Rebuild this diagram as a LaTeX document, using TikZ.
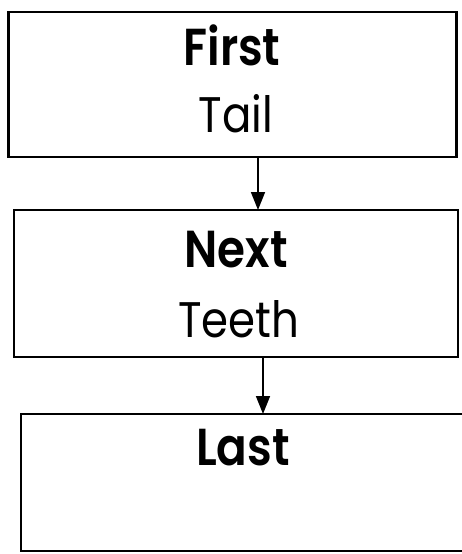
\documentclass[tikz,border=0pt]{standalone}
\usepackage{fontspec}
\setmainfont{Poppins}[FakeStretch=0.87, BoldFont={Poppins SemiBold}]
\usetikzlibrary{arrows.meta}

\tikzset{
  block/.style={draw=black, line width=2.4pt, inner sep=0pt, outer sep=0pt},
  title/.style={font=\fontsize{52}{52}\selectfont\bfseries, anchor=base},
  sub/.style={font=\fontsize{50}{50}\selectfont, anchor=base},
  link/.style={line width=1.6pt, -{Triangle[width=14pt,length=18pt]}}
}

\begin{document}
\begin{tikzpicture}[x=1pt,y=-1pt]
        \useasboundingbox (0,0) rectangle (462,554); % page size
        \node[block, minimum width=448pt, minimum height=145pt] (first) at (232.5,84.5) {}; % top box
        \node[block, minimum width=444pt, minimum height=147pt] (next) at (236,283.5) {}; % middle box
        \node[block, minimum width=445pt, minimum height=137pt] (last) at (243.5,482.5) {}; % bottom box, cut off on the right
        \node[title] (firstname) at (232,65) {First};
        \node[sub] (tailname) at (236,132) {Tail};
        \node[title] (nextname) at (236,267) {Next};
        \node[sub] (teethname) at (239,337) {Teeth};
        \node[title] (lastname) at (243,465) {Last};
        \coordinate (a1) at (258,0); % x of first arrow
        \coordinate (a2) at (263,0); % x of second arrow
        \draw[link] (first.south -| a1) -- (next.north -| a1);
        \draw[link] (next.south -| a2) -- (last.north -| a2);
    \end{tikzpicture}
\end{document}
